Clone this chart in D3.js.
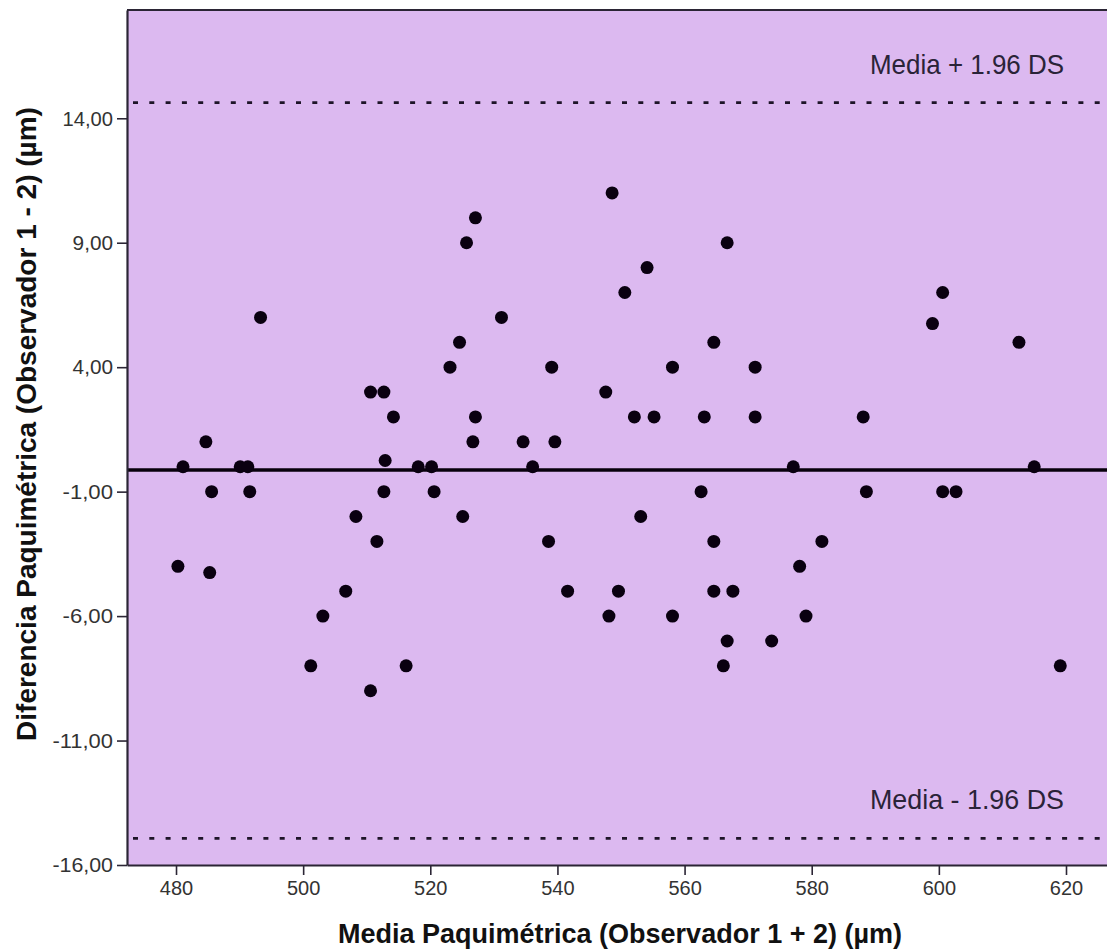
<!DOCTYPE html>
<html>
<head>
<meta charset="utf-8">
<script src="https://cdn.jsdelivr.net/npm/d3@7"></script>
<style>
  html, body { margin: 0; padding: 0; background: #ffffff; }
  svg { display: block; }
</style>
</head>
<body>
<svg id="chart" width="1107" height="950"></svg>
<script>
// ---- Data ----
const meanValues = [
  493.3, 527.1, 525.7, 548.6, 566.7, 554.1, 550.6, 531.2, 600.6, 599.0,
  612.6, 571.1, 571.1, 588.1, 577.1, 615.0, 588.6, 600.6, 602.7, 581.6,
  578.1, 579.1, 573.7, 619.1, 516.2, 548.1, 558.1, 566.7, 566.1, 503.1,
  501.2, 510.6, 484.7, 481.1, 490.1, 491.3, 485.6, 491.6, 480.3, 485.3,
  510.6, 512.7, 514.2, 512.9, 512.7, 508.3, 511.6, 506.7, 524.6, 523.1,
  539.1, 564.6, 558.1, 547.6, 527.1, 552.1, 555.2, 563.1, 526.7, 534.6,
  539.6, 518.1, 520.2, 536.1, 520.6, 562.6, 525.1, 553.1, 538.6, 564.6,
  541.6, 549.6, 564.6, 567.6
];
const diffValues = [
  6, 10, 9, 11, 9, 8, 7, 6, 7, 5.75,
  5, 4, 2, 2, 0, 0, -1, -1, -1, -3,
  -4, -6, -7, -8, -8, -6, -6, -7, -8, -6,
  -8, -9, 1, 0, 0, 0, -1, -1, -4, -4.25,
  3, 3, 2, 0.25, -1, -2, -3, -5, 5, 4,
  4, 5, 4, 3, 2, 2, 2, 2, 1, 1,
  1, 0, 0, 0, -1, -1, -2, -2, -3, -3,
  -5, -5, -5, -5
];
const meanDiff = [-0.13];
const limitValues = [14.63, -14.93];
const limitLabels = ["Media + 1.96 DS", "Media - 1.96 DS"];
const xTicks = [480, 500, 520, 540, 560, 580, 600, 620];
const yTicks = [14, 9, 4, -1, -6, -11, -16];
const xTitle = "Media Paquimétrica (Observador 1 + 2) (µm)";
const yTitle = "Diferencia Paquimétrica (Observador 1 - 2) (µm)";

// ---- Layout ----
const plot = { left: 127, top: 10, right: 1107, bottom: 865 };
const svg = d3.select("#chart");
const FONT = "Liberation Sans, Arial, sans-serif";

const x = d3.scaleLinear().domain([472.29, 626.45]).range([plot.left, plot.right]);
const y = d3.scaleLinear().domain([-16, 18.35]).range([plot.bottom, plot.top]);

const locale = d3.formatLocale({ decimal: ",", thousands: ".", grouping: [3], currency: ["", ""], minus: "-" });
const fmtY = locale.format(".2f");

// background of plot
svg.append("rect")
  .attr("x", plot.left).attr("y", plot.top)
  .attr("width", plot.right - plot.left + 5).attr("height", plot.bottom - plot.top)
  .attr("fill", "#dcb9f0");

svg.append("clipPath").attr("id", "clip")
  .append("rect")
  .attr("x", plot.left).attr("y", plot.top)
  .attr("width", plot.right - plot.left).attr("height", plot.bottom - plot.top);

const g = svg.append("g").attr("clip-path", "url(#clip)");

// limits of agreement (dotted)
g.selectAll("line.loa").data(limitValues).enter().append("line")
  .attr("class", "loa")
  .attr("x1", plot.left + 6).attr("x2", plot.right)
  .attr("y1", d => y(d)).attr("y2", d => y(d))
  .attr("stroke", "#1e1428").attr("stroke-width", 2.6)
  .attr("stroke-dasharray", "5,11.3");

// mean line
g.selectAll("line.mean").data(meanDiff).enter().append("line")
  .attr("class", "mean")
  .attr("x1", plot.left).attr("x2", plot.right)
  .attr("y1", d => y(d)).attr("y2", d => y(d))
  .attr("stroke", "#08000c").attr("stroke-width", 3.5);

// points
g.selectAll("circle.pt").data(meanValues.map((m, i) => [m, diffValues[i]])).enter().append("circle")
  .attr("class", "pt")
  .attr("cx", d => x(d[0])).attr("cy", d => y(d[1]))
  .attr("r", 6.5)
  .attr("fill", "#0a0010");

// limit labels
svg.selectAll("text.loaLabel").data(limitValues).enter().append("text")
  .attr("class", "loaLabel")
  .attr("x", 1064)
  .attr("y", d => y(d) - 29)
  .attr("text-anchor", "end")
  .attr("font-family", FONT)
  .attr("font-size", 28)
  .attr("textLength", 194)
  .attr("lengthAdjust", "spacingAndGlyphs")
  .attr("fill", "#2a2338")
  .text((d, i) => limitLabels[i]);

// top border
svg.append("line")
  .attr("x1", plot.left).attr("x2", plot.right)
  .attr("y1", plot.top).attr("y2", plot.top)
  .attr("stroke", "#2b2535").attr("stroke-width", 2);

// axes
const yAxis = d3.axisLeft(y).tickValues(yTicks).tickFormat(fmtY).tickSize(10).tickSizeOuter(0).tickPadding(4);
const xAxis = d3.axisBottom(x).tickValues(xTicks).tickFormat(d3.format("d")).tickSize(10).tickSizeOuter(0).tickPadding(6);

const gy = svg.append("g").attr("transform", `translate(${plot.left},0)`).call(yAxis);
const gx = svg.append("g").attr("transform", `translate(0,${plot.bottom})`).call(xAxis);

[gx, gy].forEach(ax => {
  ax.select(".domain").attr("stroke", "#2b2535").attr("stroke-width", 2.2);
  ax.selectAll(".tick line").attr("stroke", "#2b2535").attr("stroke-width", 1.6);
  ax.selectAll(".tick text")
    .attr("font-family", FONT)
    .attr("fill", "#333333");
});
gx.selectAll(".tick text").attr("font-size", 20);
gy.selectAll(".tick text").attr("font-size", 21)
  .each(function () {
    const n = this.textContent.length;
    // condensed look of the reference labels
    d3.select(this).attr("textLength", n * 10.1).attr("lengthAdjust", "spacingAndGlyphs");
  });

// axis titles
svg.append("text")
  .attr("x", 620).attr("y", 943)
  .attr("text-anchor", "middle")
  .attr("font-family", FONT)
  .attr("font-weight", "bold")
  .attr("font-size", 27)
  .attr("fill", "#111111")
  .text(xTitle);

svg.append("text")
  .attr("transform", "translate(36,424) rotate(-90)")
  .attr("text-anchor", "middle")
  .attr("font-family", FONT)
  .attr("font-weight", "bold")
  .attr("font-size", 28)
  .attr("fill", "#111111")
  .text(yTitle);
</script>
</body>
</html>
